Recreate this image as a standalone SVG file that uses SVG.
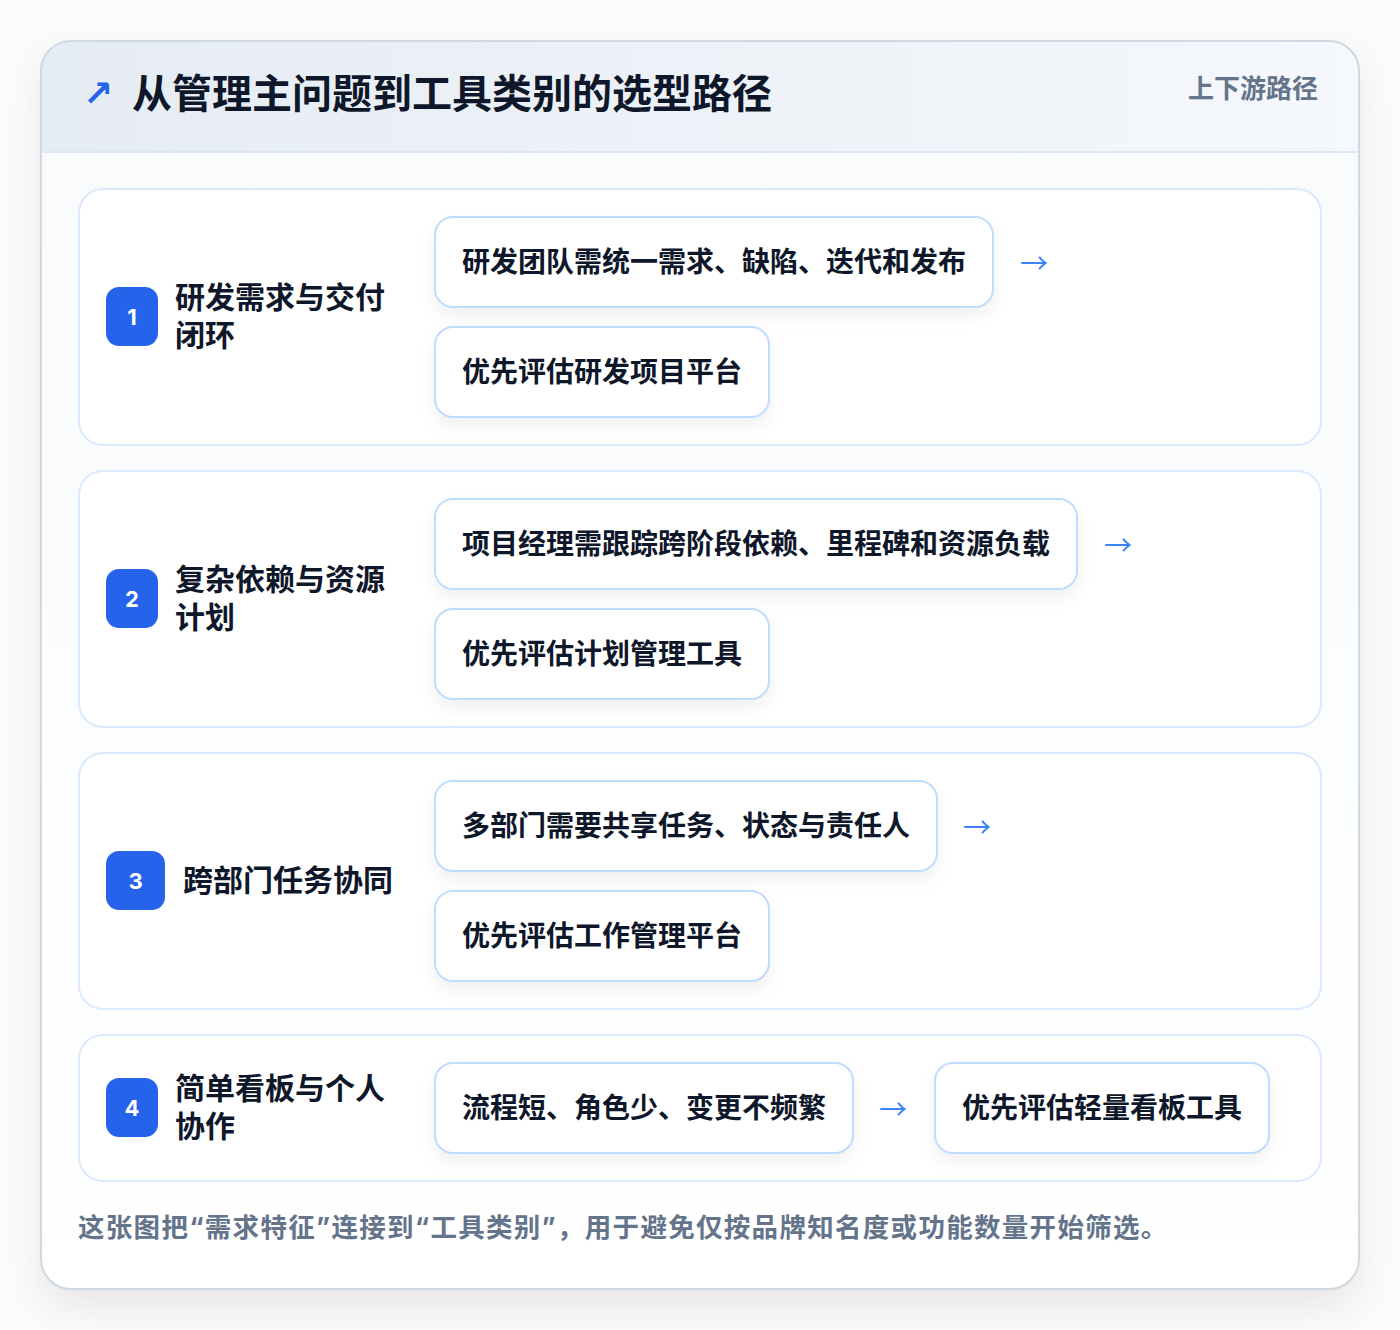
<svg xmlns="http://www.w3.org/2000/svg" width="1400" height="1330" viewBox="0 0 1400 1330">
  <defs>
    <linearGradient id="hdr" x1="0" y1="0" x2="1" y2="0">
      <stop offset="0" stop-color="#e6ecf4"/>
      <stop offset="1" stop-color="#f5f8fc"/>
    </linearGradient>
    <linearGradient id="body" x1="0" y1="0" x2="0" y2="1">
      <stop offset="0" stop-color="#f8fafc"/>
      <stop offset="1" stop-color="#ffffff"/>
    </linearGradient>
    <filter id="cardShadow" x="-10%" y="-10%" width="120%" height="125%">
      <feDropShadow dx="0" dy="18" stdDeviation="18" flood-color="#0f172a" flood-opacity="0.08"/>
    </filter>
    <filter id="boxShadow" x="-10%" y="-20%" width="120%" height="160%">
      <feDropShadow dx="0" dy="8" stdDeviation="8" flood-color="#0f172a" flood-opacity="0.06"/>
    </filter>
    <clipPath id="cardClip">
      <rect x="41" y="41" width="1318" height="1248" rx="30"/>
    </clipPath>
  </defs>
  <style>
    .cjk { font-family: "Noto Sans CJK SC", "Noto Sans", sans-serif; }
    .title { font-size: 40px; font-weight: 700; fill: #0f172a; }
    .sub { font-size: 26px; font-weight: 700; fill: #64748b; }
    .row { fill: #ffffff; stroke: #dbeafe; stroke-width: 2; }
    .badge { fill: #2563eb; }
    .num { font-family: Inter, "Liberation Sans", sans-serif; font-size: 22px; font-weight: 700; fill: #ffffff; }
    .lbl { font-size: 30px; font-weight: 700; fill: #0f172a; }
    .box { fill: #ffffff; stroke: #bfdbfe; stroke-width: 2; }
    .btxt { font-size: 28px; font-weight: 700; fill: #0f172a; }
    .arr { font-family: "Noto Sans CJK SC", sans-serif; font-size: 28px; font-weight: 400; fill: #3b82f6; }
    .foot { font-family: Inter, "Noto Sans CJK SC", sans-serif; font-size: 26.5px; letter-spacing: 1.3px; font-weight: 700; fill: #64748b; }
  </style>

  <rect x="0" y="0" width="1400" height="1330" fill="#fbfbfc"/>

  <g id="card">
    <rect x="41" y="41" width="1318" height="1248" rx="30" fill="#ffffff" filter="url(#cardShadow)"/>
    <g clip-path="url(#cardClip)">
      <rect x="41" y="41" width="1318" height="1248" fill="url(#body)"/>
      <rect x="41" y="41" width="1318" height="111" fill="url(#hdr)"/>
      <line x1="41" y1="152" x2="1359" y2="152" stroke="#dbe7f5" stroke-width="2"/>
    </g>
    <rect x="41" y="41" width="1318" height="1248" rx="30" fill="none" stroke="#cfd8e3" stroke-width="2"/>
  </g>

  <g id="header">
    <text x="83" y="106" font-family="DejaVu Sans, sans-serif" font-size="36" font-weight="700" fill="#2563eb">↗</text>
    <text class="cjk title" x="132" y="91" dominant-baseline="central">从管理主问题到工具类别的选型路径</text>
    <text class="cjk sub" x="1318" y="86" text-anchor="end" dominant-baseline="central">上下游路径</text>
  </g>

  <g id="row1">
    <rect class="row" x="79" y="189" width="1242" height="256" rx="24"/>
    <rect class="badge" x="106" y="287" width="52" height="59" rx="13"/>
    <text class="num" x="132" y="317" text-anchor="middle" dominant-baseline="central">1</text>
    <text class="cjk lbl" x="175" y="295" dominant-baseline="central">研发需求与交付<tspan x="175" dy="38">闭环</tspan></text>
  </g>
  <g id="node1a">
    <rect class="box" x="435" y="217" width="558" height="90" rx="18" filter="url(#boxShadow)"/>
    <text class="cjk btxt" x="462" y="260" dominant-baseline="central">研发团队需统一需求、缺陷、迭代和发布</text>
  </g>
  <g id="node1b">
    <rect class="box" x="435" y="327" width="334" height="90" rx="18" filter="url(#boxShadow)"/>
    <text class="cjk btxt" x="462" y="370" dominant-baseline="central">优先评估研发项目平台</text>
  </g>

  <g id="row2">
    <rect class="row" x="79" y="471" width="1242" height="256" rx="24"/>
    <rect class="badge" x="106" y="569" width="52" height="59" rx="13"/>
    <text class="num" x="132" y="599" text-anchor="middle" dominant-baseline="central">2</text>
    <text class="cjk lbl" x="175" y="577" dominant-baseline="central">复杂依赖与资源<tspan x="175" dy="38">计划</tspan></text>
  </g>
  <g id="node2a">
    <rect class="box" x="435" y="499" width="642" height="90" rx="18" filter="url(#boxShadow)"/>
    <text class="cjk btxt" x="462" y="542" dominant-baseline="central">项目经理需跟踪跨阶段依赖、里程碑和资源负载</text>
  </g>
  <g id="node2b">
    <rect class="box" x="435" y="609" width="334" height="90" rx="18" filter="url(#boxShadow)"/>
    <text class="cjk btxt" x="462" y="652" dominant-baseline="central">优先评估计划管理工具</text>
  </g>

  <g id="row3">
    <rect class="row" x="79" y="753" width="1242" height="256" rx="24"/>
    <rect class="badge" x="106" y="851" width="59" height="59" rx="13"/>
    <text class="num" x="135.5" y="881" text-anchor="middle" dominant-baseline="central">3</text>
    <text class="cjk lbl" x="183" y="878" dominant-baseline="central">跨部门任务协同</text>
  </g>
  <g id="node3a">
    <rect class="box" x="435" y="781" width="502" height="90" rx="18" filter="url(#boxShadow)"/>
    <text class="cjk btxt" x="462" y="824" dominant-baseline="central">多部门需要共享任务、状态与责任人</text>
  </g>
  <g id="node3b">
    <rect class="box" x="435" y="891" width="334" height="90" rx="18" filter="url(#boxShadow)"/>
    <text class="cjk btxt" x="462" y="934" dominant-baseline="central">优先评估工作管理平台</text>
  </g>

  <g id="row4">
    <rect class="row" x="79" y="1035" width="1242" height="146" rx="24"/>
    <rect class="badge" x="106" y="1078" width="52" height="59" rx="13"/>
    <text class="num" x="132" y="1108" text-anchor="middle" dominant-baseline="central">4</text>
    <text class="cjk lbl" x="175" y="1086" dominant-baseline="central">简单看板与个人<tspan x="175" dy="38">协作</tspan></text>
  </g>
  <g id="node4a">
    <rect class="box" x="435" y="1063" width="418" height="90" rx="18" filter="url(#boxShadow)"/>
    <text class="cjk btxt" x="462" y="1106" dominant-baseline="central">流程短、角色少、变更不频繁</text>
  </g>
  <g id="node4b">
    <rect class="box" x="935" y="1063" width="334" height="90" rx="18" filter="url(#boxShadow)"/>
    <text class="cjk btxt" x="962" y="1106" dominant-baseline="central">优先评估轻量看板工具</text>
  </g>

  <g id="connectors">
    <text class="arr" x="1034" y="262" text-anchor="middle" dominant-baseline="central">→</text>
    <text class="arr" x="1118" y="544" text-anchor="middle" dominant-baseline="central">→</text>
    <text class="arr" x="977" y="826" text-anchor="middle" dominant-baseline="central">→</text>
    <text class="arr" x="893" y="1108" text-anchor="middle" dominant-baseline="central">→</text>
  </g>

  <g id="footer">
    <text class="foot" x="78" y="1227" dominant-baseline="central">这张图把“需求特征”连接到“工具类别”，用于避免仅按品牌知名度或功能数量开始筛选。</text>
  </g>
</svg>
